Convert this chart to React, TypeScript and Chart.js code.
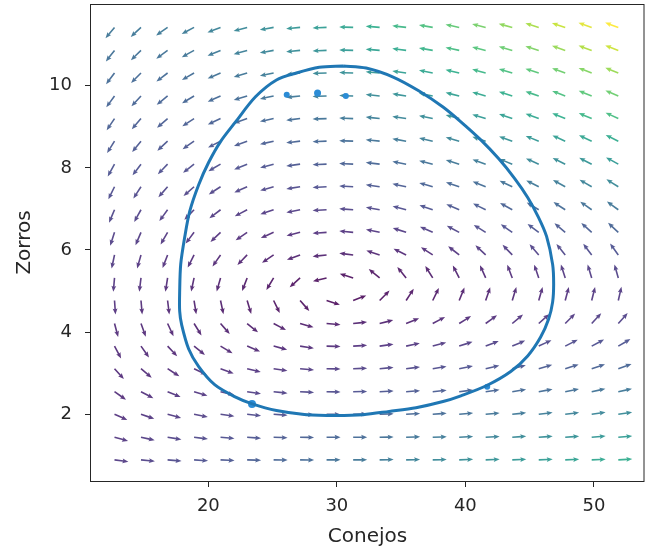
import React, { useEffect, useRef } from 'react';
import { Chart, registerables } from 'chart.js';

Chart.register(...registerables);

// Grid of the vector field (Conejos on x, Zorros on y)
const gridX = [12.7, 14.76, 16.83, 18.89, 20.95, 23.02, 25.08, 27.14, 29.2, 31.27, 33.33, 35.39, 37.46, 39.52, 41.58, 43.65, 45.71, 47.77, 49.83, 51.9];
const gridY = [0.89, 1.44, 2.0, 2.55, 3.11, 3.66, 4.21, 4.77, 5.32, 5.88, 6.43, 6.98, 7.54, 8.09, 8.65, 9.2, 9.75, 10.31, 10.86, 11.42];

// Arrow directions in degrees (row by row, bottom row first)
const arrowAngles = [
  [-8, -6, -5, -4, -3, -2, -1, -1, 0, 0, 1, 1, 1, 2, 2, 2, 2, 2, 2, 3],
  [-15, -12, -9, -7, -5, -4, -2, -1, 0, 0, 1, 2, 2, 3, 3, 4, 4, 4, 5, 5],
  [-24, -19, -15, -11, -8, -6, -4, -2, -1, 1, 2, 3, 4, 5, 5, 6, 7, 7, 8, 8],
  [-35, -28, -22, -17, -13, -9, -6, -3, -1, 1, 3, 4, 6, 7, 8, 9, 10, 11, 12, 12],
  [-48, -40, -33, -26, -20, -14, -9, -5, -1, 2, 5, 7, 9, 11, 13, 14, 16, 17, 18, 19],
  [-62, -55, -47, -39, -31, -23, -15, -9, -2, 3, 8, 12, 15, 18, 21, 23, 25, 27, 28, 30],
  [-75, -70, -65, -58, -49, -39, -28, -16, -5, 6, 14, 22, 28, 32, 36, 40, 42, 45, 47, 48],
  [-86, -85, -83, -81, -78, -73, -64, -49, -18, 21, 45, 57, 64, 68, 71, 73, 74, 75, 76, 77],
  [-95, -97, -99, -102, -106, -111, -121, -138, -166, 163, 141, 129, 122, 117, 114, 111, 109, 108, 107, 106],
  [-102, -106, -111, -117, -125, -134, -146, -160, -174, 173, 162, 154, 147, 142, 137, 134, 131, 129, 127, 126],
  [-108, -113, -120, -127, -136, -145, -156, -166, -176, 175, 168, 162, 156, 152, 148, 145, 143, 140, 138, 137],
  [-113, -119, -126, -134, -143, -152, -161, -169, -177, 176, 170, 165, 161, 157, 154, 151, 149, 147, 145, 144],
  [-116, -123, -131, -139, -147, -156, -164, -171, -177, 177, 172, 168, 164, 161, 158, 155, 153, 151, 150, 148],
  [-119, -127, -134, -142, -150, -158, -165, -172, -178, 177, 173, 169, 166, 163, 160, 158, 156, 154, 153, 151],
  [-122, -129, -137, -145, -153, -160, -167, -173, -178, 178, 174, 170, 167, 164, 162, 160, 158, 156, 155, 154],
  [-124, -131, -139, -147, -155, -161, -168, -173, -178, 178, 174, 171, 168, 165, 163, 161, 160, 158, 157, 155],
  [-126, -133, -141, -149, -156, -163, -168, -174, -178, 178, 174, 171, 169, 166, 164, 162, 161, 159, 158, 157],
  [-127, -135, -143, -150, -157, -163, -169, -174, -178, 178, 175, 172, 169, 167, 165, 163, 162, 160, 159, 158],
  [-128, -136, -144, -151, -158, -164, -170, -174, -178, 178, 175, 172, 170, 168, 166, 164, 163, 161, 160, 159],
  [-130, -137, -145, -152, -159, -165, -170, -175, -178, 178, 175, 173, 170, 168, 166, 165, 163, 162, 161, 160],
];

// Arrow magnitudes (colour), same layout
const arrowMagnitudes = [
  [1.06, 1.22, 1.39, 1.55, 1.72, 1.89, 2.06, 2.22, 2.39, 2.56, 2.73, 2.9, 3.07, 3.24, 3.41, 3.57, 3.74, 3.91, 4.08, 4.25],
  [0.94, 1.07, 1.21, 1.35, 1.49, 1.64, 1.78, 1.93, 2.07, 2.22, 2.36, 2.51, 2.66, 2.81, 2.95, 3.1, 3.25, 3.4, 3.54, 3.69],
  [0.84, 0.94, 1.04, 1.15, 1.27, 1.38, 1.5, 1.62, 1.75, 1.87, 1.99, 2.12, 2.24, 2.37, 2.49, 2.62, 2.75, 2.88, 3.0, 3.13],
  [0.76, 0.82, 0.89, 0.97, 1.05, 1.14, 1.23, 1.33, 1.43, 1.53, 1.63, 1.73, 1.84, 1.94, 2.05, 2.16, 2.27, 2.37, 2.48, 2.59],
  [0.72, 0.73, 0.76, 0.79, 0.84, 0.9, 0.96, 1.03, 1.1, 1.18, 1.26, 1.34, 1.43, 1.52, 1.61, 1.69, 1.79, 1.88, 1.97, 2.07],
  [0.72, 0.68, 0.66, 0.65, 0.65, 0.67, 0.7, 0.73, 0.78, 0.84, 0.9, 0.96, 1.04, 1.11, 1.19, 1.26, 1.35, 1.43, 1.51, 1.6],
  [0.76, 0.68, 0.62, 0.56, 0.51, 0.47, 0.45, 0.45, 0.46, 0.49, 0.54, 0.6, 0.66, 0.74, 0.81, 0.89, 0.97, 1.05, 1.14, 1.22],
  [0.83, 0.73, 0.64, 0.54, 0.45, 0.35, 0.27, 0.19, 0.14, 0.15, 0.22, 0.3, 0.39, 0.48, 0.58, 0.67, 0.77, 0.87, 0.96, 1.06],
  [0.92, 0.82, 0.71, 0.61, 0.5, 0.4, 0.31, 0.23, 0.19, 0.21, 0.27, 0.36, 0.46, 0.56, 0.66, 0.77, 0.88, 0.98, 1.09, 1.2],
  [1.04, 0.93, 0.83, 0.74, 0.65, 0.58, 0.53, 0.51, 0.52, 0.55, 0.61, 0.69, 0.78, 0.89, 0.99, 1.1, 1.21, 1.33, 1.45, 1.56],
  [1.17, 1.07, 0.98, 0.9, 0.84, 0.8, 0.78, 0.8, 0.83, 0.89, 0.97, 1.06, 1.17, 1.28, 1.39, 1.51, 1.64, 1.77, 1.9, 2.03],
  [1.31, 1.21, 1.14, 1.08, 1.04, 1.03, 1.05, 1.09, 1.15, 1.24, 1.33, 1.44, 1.56, 1.69, 1.82, 1.96, 2.1, 2.25, 2.39, 2.54],
  [1.46, 1.37, 1.31, 1.28, 1.26, 1.28, 1.33, 1.39, 1.48, 1.58, 1.7, 1.83, 1.97, 2.12, 2.27, 2.43, 2.59, 2.75, 2.92, 3.09],
  [1.61, 1.53, 1.49, 1.47, 1.49, 1.53, 1.6, 1.69, 1.8, 1.93, 2.07, 2.22, 2.38, 2.55, 2.72, 2.9, 3.08, 3.26, 3.45, 3.64],
  [1.76, 1.7, 1.68, 1.68, 1.72, 1.78, 1.88, 1.99, 2.13, 2.28, 2.44, 2.61, 2.8, 2.99, 3.18, 3.38, 3.58, 3.79, 4.0, 4.21],
  [1.92, 1.87, 1.86, 1.89, 1.95, 2.03, 2.15, 2.29, 2.45, 2.62, 2.8, 3.0, 3.2, 3.42, 3.63, 3.85, 4.08, 4.31, 4.54, 4.77],
  [2.07, 2.04, 2.05, 2.1, 2.18, 2.29, 2.43, 2.59, 2.77, 2.96, 3.17, 3.39, 3.62, 3.85, 4.09, 4.33, 4.58, 4.83, 5.09, 5.34],
  [2.24, 2.22, 2.24, 2.31, 2.41, 2.54, 2.71, 2.89, 3.09, 3.31, 3.54, 3.78, 4.03, 4.29, 4.55, 4.82, 5.09, 5.36, 5.64, 5.92],
  [2.4, 2.39, 2.44, 2.52, 2.64, 2.8, 2.98, 3.19, 3.41, 3.65, 3.91, 4.17, 4.44, 4.72, 5.01, 5.3, 5.59, 5.89, 6.19, 6.49],
  [2.56, 2.57, 2.63, 2.73, 2.88, 3.06, 3.26, 3.49, 3.74, 4.0, 4.28, 4.57, 4.86, 5.17, 5.47, 5.79, 6.1, 6.43, 6.75, 7.08],
];

// Closed orbit (Conejos, Zorros)
const orbitX = [30.5, 28.63, 26.85, 25.3, 23.67, 22.12, 20.95, 20.02, 19.25, 18.55, 18.16, 17.85, 17.77, 17.77, 17.93, 18.47, 19.25, 20.49, 22.04, 23.36, 25.3, 27.63, 29.95, 32.05, 34.07, 36.16, 38.26, 39.65, 41.67, 43.53, 44.85, 45.86, 46.48, 46.79, 46.87, 46.79, 46.32, 45.7, 44.85, 43.84, 42.6, 41.2, 39.65, 38.26, 36.4, 34.38, 32.28, 30.5];
const orbitY = [10.48, 10.45, 10.31, 10.14, 9.73, 9.12, 8.64, 8.13, 7.59, 6.94, 6.31, 5.65, 5.0, 4.51, 4.17, 3.59, 3.16, 2.72, 2.43, 2.26, 2.09, 1.99, 1.97, 1.99, 2.07, 2.16, 2.31, 2.45, 2.7, 3.04, 3.42, 3.88, 4.32, 4.73, 5.17, 5.65, 6.33, 6.79, 7.28, 7.74, 8.22, 8.68, 9.12, 9.48, 9.87, 10.21, 10.43, 10.48];

// Isolated markers
const markerX = [26.1, 28.5, 30.7, 23.4, 41.7];
const markerY = [9.78, 9.82, 9.75, 2.25, 2.67];
const markerSizes = [3, 3.5, 3, 4, 3];

const xTicks = [20, 30, 40, 50];
const yTicks = [2, 4, 6, 8, 10];

const viridisStops = ['#440154', '#482475', '#414487', '#355f8d', '#2a788e', '#21918c', '#22a884', '#44bf70', '#7ad151', '#bddf26', '#fde725'];

function hexToRgb(h: string) {
  return [parseInt(h.slice(1, 3), 16), parseInt(h.slice(3, 5), 16), parseInt(h.slice(5, 7), 16)];
}

function viridis(t: number) {
  const c = Math.max(0, Math.min(1, t)) * (viridisStops.length - 1);
  const i = Math.min(viridisStops.length - 2, Math.floor(c));
  const f = c - i;
  const a = hexToRgb(viridisStops[i]);
  const b = hexToRgb(viridisStops[i + 1]);
  const r = a.map((v, k) => Math.round(v + (b[k] - v) * f));
  return `rgb(${r[0]},${r[1]},${r[2]})`;
}

const quiverPlugin = {
  id: 'quiver',
  beforeDatasetsDraw(chart: any) {
    const { ctx, scales, chartArea } = chart;
    const xs = scales.x;
    const ys = scales.y;
    const flat = arrowMagnitudes.flat();
    const mn = Math.min(...flat);
    const mx = Math.max(...flat);
    const w = 1.6;
    const L = 14;
    const hl = 6;
    const hal = 5.2;
    const hw = 4.8;
    ctx.save();
    ctx.beginPath();
    ctx.rect(chartArea.left, chartArea.top, chartArea.right - chartArea.left, chartArea.bottom - chartArea.top);
    ctx.clip();
    ctx.globalAlpha = 0.88;
    for (let j = 0; j < gridY.length; j++) {
      for (let i = 0; i < gridX.length; i++) {
        const px = xs.getPixelForValue(gridX[i]);
        const py = ys.getPixelForValue(gridY[j]);
        const ang = (arrowAngles[j][i] * Math.PI) / 180;
        const t = (arrowMagnitudes[j][i] - mn) / (mx - mn);
        ctx.save();
        ctx.translate(px, py);
        ctx.rotate(-ang);
        ctx.fillStyle = viridis(t);
        ctx.beginPath();
        ctx.moveTo(0, -w / 2);
        ctx.lineTo(L - hal, -w / 2);
        ctx.lineTo(L - hl, -hw / 2);
        ctx.lineTo(L, 0);
        ctx.lineTo(L - hl, hw / 2);
        ctx.lineTo(L - hal, w / 2);
        ctx.lineTo(0, w / 2);
        ctx.closePath();
        ctx.fill();
        ctx.restore();
      }
    }
    ctx.restore();
  },
  afterDatasetsDraw(chart: any) {
    const { ctx, chartArea } = chart;
    ctx.save();
    ctx.strokeStyle = '#262626';
    ctx.lineWidth = 1;
    ctx.strokeRect(
      Math.round(chartArea.left) - 0.5,
      Math.round(chartArea.top) + 0.5,
      Math.round(chartArea.right - chartArea.left) + 0.5,
      Math.round(chartArea.bottom - chartArea.top)
    );
    ctx.restore();
  },
};

const FONT = 'DejaVu Sans';

export default function App() {
  const ref = useRef<HTMLCanvasElement | null>(null);
  useEffect(() => {
    if (!ref.current) return;
    const orbit = orbitX.map((x, i) => ({ x, y: orbitY[i] }));
    const markers = markerX.map((x, i) => ({ x, y: markerY[i] }));
    const chart = new Chart(ref.current, {
      type: 'scatter',
      data: {
        datasets: [
          {
            data: orbit,
            showLine: true,
            borderColor: '#1f77b4',
            borderWidth: 3,
            pointRadius: 0,
            tension: 0.3,
            fill: false,
          },
          {
            data: markers,
            showLine: false,
            pointRadius: markerSizes,
            backgroundColor: '#2b8cd6',
            borderWidth: 0,
          },
        ],
      },
      options: {
        responsive: false,
        animation: false,
        layout: { padding: { top: 3, right: 2, left: 0, bottom: 0 } },
        plugins: { legend: { display: false }, tooltip: { enabled: false } },
        scales: {
          x: {
            type: 'linear',
            min: 10.87,
            max: 53.9,
            afterBuildTicks: (s: any) => {
              s.ticks = xTicks.map((v) => ({ value: v }));
            },
            afterFit: (s: any) => {
              s.height = 75;
              s.paddingLeft = 0;
              s.paddingRight = 0;
            },
            ticks: { font: { family: FONT, size: 18 }, color: '#262626', padding: 9, maxRotation: 0, autoSkip: false },
            grid: { drawOnChartArea: false, drawTicks: true, tickLength: 6, tickColor: '#262626', tickWidth: 1 },
            border: { display: false },
            title: { display: true, text: 'Conejos', font: { family: FONT, size: 20 }, color: '#262626', padding: { top: 0, bottom: 7 } },
          },
          y: {
            type: 'linear',
            min: 0.375,
            max: 11.99,
            afterBuildTicks: (s: any) => {
              s.ticks = yTicks.map((v) => ({ value: v }));
            },
            afterFit: (s: any) => {
              s.width = 91;
              s.paddingTop = 0;
              s.paddingBottom = 0;
            },
            ticks: { font: { family: FONT, size: 18 }, color: '#262626', padding: 13, autoSkip: false },
            grid: { drawOnChartArea: false, drawTicks: true, tickLength: 6, tickColor: '#262626', tickWidth: 1 },
            border: { display: false },
            title: { display: true, text: 'Zorros', font: { family: FONT, size: 20 }, color: '#262626', padding: { top: 13, bottom: 0 } },
          },
        },
      },
      plugins: [quiverPlugin],
    });
    return () => chart.destroy();
  }, []);
  return (
    <div style={{ position: 'absolute', left: 0, top: 0, width: 648, height: 556 }}>
      <canvas ref={ref} width={648} height={556} style={{ display: 'block', width: 648, height: 556 }} />
    </div>
  );
}
